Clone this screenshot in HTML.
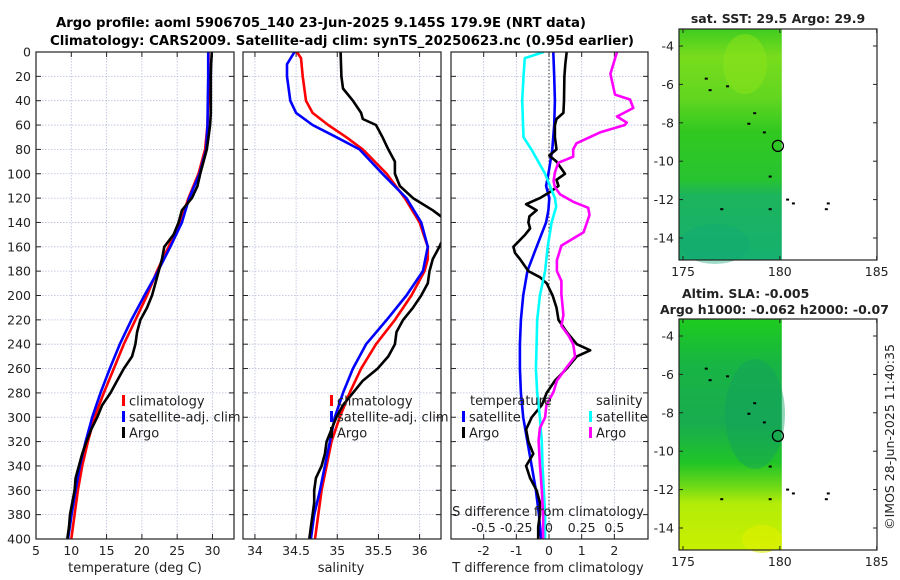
<!DOCTYPE html>
<html><head><meta charset="utf-8"><style>
html,body{margin:0;padding:0;background:#fff;}
svg{display:block;font-family:"DejaVu Sans","Liberation Sans",sans-serif;}
</style></head><body>
<svg id="fig" width="900" height="580" viewBox="0 0 900 580" xmlns="http://www.w3.org/2000/svg">
<defs>
<clipPath id="c1"><rect x="36" y="52" width="198" height="487"/></clipPath>
<clipPath id="c2"><rect x="243" y="52" width="198" height="487"/></clipPath>
<clipPath id="c3"><rect x="451" y="52" width="197" height="487"/></clipPath>
<linearGradient id="gsst" x1="0" y1="0" x2="0" y2="1">
<stop offset="0" stop-color="#40cc20"/><stop offset="0.12" stop-color="#78dc1c"/><stop offset="0.3" stop-color="#62d620"/>
<stop offset="0.45" stop-color="#30c820"/><stop offset="0.65" stop-color="#28c430"/><stop offset="0.72" stop-color="#1cb45c"/>
<stop offset="1" stop-color="#16b070"/></linearGradient>
<linearGradient id="gsla" x1="0" y1="0" x2="0" y2="1">
<stop offset="0" stop-color="#1ecc1e"/><stop offset="0.2" stop-color="#18b444"/><stop offset="0.45" stop-color="#18ac50"/>
<stop offset="0.62" stop-color="#20c428"/><stop offset="0.72" stop-color="#6ad818"/><stop offset="0.8" stop-color="#b4ec08"/>
<stop offset="1" stop-color="#c8f000"/></linearGradient>
</defs>
<text x="321" y="27" font-size="13" font-weight="bold" text-anchor="middle" textLength="530" lengthAdjust="spacingAndGlyphs">Argo profile: aoml 5906705_140 23-Jun-2025 9.145S 179.9E (NRT data)</text>
<text x="342" y="45" font-size="13" font-weight="bold" text-anchor="middle" textLength="584" lengthAdjust="spacingAndGlyphs">Climatology: CARS2009. Satellite-adj clim: synTS_20250623.nc (0.95d earlier)</text>
<g id="g1"></g>
<g id="g2"></g>
<g id="g3"></g>
<g id="g4"></g>
<g id="g5"></g>
<text transform="translate(894,437) rotate(-90)" font-size="12.5" text-anchor="middle" fill="#222">©IMOS 28-Jun-2025 11:40:35</text>
</svg>
<script>
// ---- data ----
const depthClim=[0,20,40,60,80,100,120,140,160,180,200,220,240,260,280,300,320,340,360,380,400];
const tempClim=[29.44,29.44,29.39,29.29,28.96,28.02,26.61,25.44,23.79,22.14,20.73,19.08,17.44,16.02,14.61,13.29,12.35,11.55,10.94,10.47,10.0];
const tempSat=[29.39,29.39,29.34,29.29,29.11,28.16,26.71,25.67,24.02,22.28,20.35,18.52,16.87,15.46,14.14,12.96,12.02,11.22,10.61,10.05,9.53];
const depthArgo=[0,10,20,30,40,50,60,70,80,90,100,110,120,130,140,150,160,170,180,190,200,210,220,230,240,250,260,270,280,290,300,310,320,330,340,350,360,370,380,390,400];
const tempArgo=[29.91,29.81,29.76,29.76,29.76,29.76,29.67,29.44,29.2,28.73,28.26,27.88,27.08,25.67,25.2,24.49,23.18,22.85,22.38,21.91,21.44,20.73,19.79,19.32,19.08,18.61,17.44,16.49,15.55,14.38,13.67,12.82,12.16,11.55,11.08,10.61,10.47,10.14,9.81,9.67,9.44];
const depthSalClim=[0,5,20,40,50,60,70,80,100,120,140,160,170,180,200,220,240,260,280,300,320,340,360,380,400];
const salClim=[34.51,34.56,34.58,34.62,34.70,34.89,35.11,35.31,35.60,35.82,36.00,36.10,36.10,36.06,35.90,35.70,35.47,35.29,35.15,35.03,34.93,34.87,34.81,34.77,34.73];
const depthSalSat=[0,10,20,40,50,60,70,80,100,120,140,160,180,200,220,240,260,280,300,320,340,360,380,400];
const salSat=[34.48,34.39,34.39,34.43,34.50,34.70,34.99,35.27,35.55,35.84,36.02,36.10,36.04,35.84,35.60,35.35,35.19,35.07,34.97,34.91,34.85,34.79,34.72,34.68];
const depthSalArgo=[0,20,30,40,50,55,60,70,80,90,100,110,120,130,135,145,157,160,170,180,190,200,210,220,230,240,250,260,270,280,290,300,310,320,330,340,350,360,370,380,390,400];
const salArgo=[35.04,35.05,35.07,35.19,35.29,35.31,35.47,35.55,35.62,35.70,35.70,35.76,35.92,36.16,36.26,36.40,36.26,36.24,36.16,36.12,36.10,36.02,35.92,35.80,35.72,35.70,35.62,35.49,35.31,35.19,35.07,34.99,34.93,34.87,34.85,34.81,34.74,34.72,34.72,34.70,34.68,34.66];
const depthTdSat=[0,20,40,60,80,100,110,120,130,140,160,180,200,220,240,260,280,300,320,340,360,380,400];
const tDiffSat=[0.13,0.16,0.18,0.16,0.10,-0.02,-0.09,0.01,-0.02,-0.09,-0.38,-0.66,-0.79,-0.86,-0.89,-0.89,-0.86,-0.79,-0.66,-0.53,-0.40,-0.31,-0.24];
const depthTdArgo=[0,10,20,40,50,55,60,70,80,85,90,100,105,110,115,120,125,130,135,140,145,150,160,165,170,180,185,190,200,210,220,230,240,245,250,260,270,280,290,300,310,320,330,340,350,360,370,380,390,400];
const tDiffArgo=[0.54,0.50,0.47,0.46,0.44,0.23,0.18,0.18,0.23,0.01,0.23,0.49,0.23,0.29,0.03,-0.28,-0.70,-0.38,-0.60,-0.63,-0.58,-0.73,-1.09,-1.04,-0.89,-0.63,-0.28,-0.07,0.11,0.23,0.29,0.54,0.85,1.26,0.85,0.54,0.18,-0.07,-0.22,-0.53,-0.70,-0.63,-0.48,-0.70,-0.58,-0.38,-0.28,-0.28,-0.33,-0.33];
const depthSdSat=[0,5,20,40,70,80,100,120,127,140,160,180,200,220,240,260,280,300,320,340,360,380,400];
const sDiffSat=[-0.04,-0.185,-0.195,-0.205,-0.195,-0.135,-0.03,0.045,0.055,0.02,-0.01,-0.03,-0.07,-0.09,-0.095,-0.10,-0.09,-0.07,-0.055,-0.05,-0.04,-0.03,-0.03];
const depthSdArgo=[0,18,35,39,46,53,58,60,66,75,80,86,91,99,106,111,117,123,128,134,148,159,171,180,188,199,216,225,233,240,250,259,270,279,290,300,309,319,339,360,380,400];
const sDiffArgo=[0.52,0.47,0.505,0.62,0.645,0.52,0.595,0.58,0.39,0.21,0.185,0.185,0.07,0.045,0.035,0.045,0.085,0.185,0.30,0.31,0.265,0.095,0.06,0.06,0.095,0.095,0.11,0.095,0.15,0.185,0.20,0.135,0.06,0.035,-0.02,-0.03,-0.07,-0.08,-0.07,-0.055,-0.045,-0.045];
const depthTicks=[0,20,40,60,80,100,120,140,160,180,200,220,240,260,280,300,320,340,360,380,400];
const tempTicks=[5,10,15,20,25,30];
const salTicks=[34,34.5,35,35.5,36];
const tdTicks=[-2,-1,0,1,2];
const sdTicks=[-0.5,-0.25,0,0.25,0.5];
const lonTicks=[175,180,185];
const latTicks=[-4,-6,-8,-10,-12,-14];

const NS="http://www.w3.org/2000/svg";
function mk(tag,parent,attrs){const e=document.createElementNS(NS,tag);for(const k in attrs)e.setAttribute(k,attrs[k]);parent.appendChild(e);return e;}
const Y0=52,Y1=539;
function yD(d){return Y0+d/400*(Y1-Y0);}
function lin(d0,d1,r0,r1){return v=>r0+(v-d0)/(d1-d0)*(r1-r0);}

function axes(g,x0,x1,xs,ticks,labels,showY){
  mk('rect',g,{x:x0,y:Y0,width:x1-x0,height:Y1-Y0,fill:'#fff'});
  depthTicks.forEach(d=>{const l=mk('line',g,{x1:x0,x2:x1,y1:yD(d),y2:yD(d),stroke:'#b8bedc','stroke-width':0.8,'stroke-dasharray':'1.5,1.5'});
    
    mk('line',g,{x1:x0,x2:x0+5,y1:yD(d),y2:yD(d),stroke:'#222'});mk('line',g,{x1:x1-5,x2:x1,y1:yD(d),y2:yD(d),stroke:'#222'});
    if(showY){const t=mk('text',g,{x:x0-5,y:yD(d)+4.5,'font-size':12.5,'text-anchor':'end',fill:'#222'});t.textContent=d;
      }});
  ticks.forEach((v,i)=>{const x=xs(v);
    const l=mk('line',g,{x1:x,x2:x,y1:Y0,y2:Y1,stroke:'#b8bedc','stroke-width':0.8,'stroke-dasharray':'1.5,1.5'});
    
    mk('line',g,{x1:x,x2:x,y1:Y1-5,y2:Y1,stroke:'#222'});mk('line',g,{x1:x,x2:x,y1:Y0,y2:Y0+5,stroke:'#222'});
    const t=mk('text',g,{x:x,y:555,'font-size':12.5,'text-anchor':'middle',fill:'#222'});t.textContent=labels[i];
    });
}
function frame(g,x0,x1){const r=mk('rect',g,{x:x0,y:Y0,width:x1-x0,height:Y1-Y0,fill:'none',stroke:'#222','stroke-width':1.2});
  }
function series(g,depths,vals,xs,color,clip,name){
  const pts=depths.map((d,i)=>xs(vals[i]).toFixed(1)+','+yD(d).toFixed(1)).join(' ');
  const p=mk('polyline',g,{points:pts,fill:'none',stroke:color,'stroke-width':2.6,'stroke-linejoin':'round','clip-path':'url(#'+clip+')'});
  }
function legendRow(g,x,y,color,label,name){
  mk('rect',g,{x:x,y:y-6,width:3,height:11,fill:color});
  const t=mk('text',g,{x:x+7,y:y+4.5,'font-size':13,fill:'#222'});t.textContent=label;
  }
function label(g,x,y,txt,name,extra){const t=mk('text',g,Object.assign({x:x,y:y,'font-size':13,'text-anchor':'middle',fill:'#222'},extra||{}));t.textContent=txt;
  return t;}

// Panel 1
const g1=document.getElementById('g1');
const xT=lin(5,33.05,36,234);
axes(g1,36,234,xT,tempTicks,tempTicks.map(String),true);
series(g1,depthClim,tempClim,xT,'#ff0000','c1','temp-climatology-line');
series(g1,depthClim,tempSat,xT,'#0000ff','c1','temp-satellite-line');
series(g1,depthArgo,tempArgo,xT,'#000','c1','temp-argo-line');
frame(g1,36,234);
legendRow(g1,122,401,'#ff0000','climatology','legend-climatology');
legendRow(g1,122,417,'#0000ff','satellite-adj. clim','legend-satellite');
legendRow(g1,122,433,'#000','Argo','legend-argo');
label(g1,135,572,'temperature (deg C)','x-axis-title-temperature');

// Panel 2
const g2=document.getElementById('g2');
const xS=lin(33.855,36.26,243,441);
axes(g2,243,441,xS,salTicks,['34','34.5','35','35.5','36']);
series(g2,depthSalClim,salClim,xS,'#ff0000','c2','sal-climatology-line');
series(g2,depthSalSat,salSat,xS,'#0000ff','c2','sal-satellite-line');
series(g2,depthSalArgo,salArgo,xS,'#000','c2','sal-argo-line');
frame(g2,243,441);
legendRow(g2,330,401,'#ff0000','climatology','legend-climatology');
legendRow(g2,330,417,'#0000ff','satellite-adj. clim','legend-satellite');
legendRow(g2,330,433,'#000','Argo','legend-argo');
label(g2,341,572,'salinity','x-axis-title-salinity');

// Panel 3
const g3=document.getElementById('g3');
const xTd=lin(-3,3.03,451,648);
const xSd=lin(-0.75,0.7575,451,648);
axes(g3,451,648,xTd,tdTicks,['-2','-1','0','1','2']);
const zl=mk('line',g3,{x1:xTd(0),x2:xTd(0),y1:Y0,y2:Y1,stroke:'#333','stroke-width':1,'stroke-dasharray':'1.5,2'});

series(g3,depthTdSat,tDiffSat,xTd,'#0000ff','c3','tdiff-satellite-line');
series(g3,depthTdArgo,tDiffArgo,xTd,'#000','c3','tdiff-argo-line');
series(g3,depthSdSat,sDiffSat,xSd,'#00ffff','c3','sdiff-satellite-line');
series(g3,depthSdArgo,sDiffArgo,xSd,'#ff00ff','c3','sdiff-argo-line');
frame(g3,451,648);
label(g3,470,405,'temperature','legend-temperature-heading',{'text-anchor':'start'});
legendRow(g3,462,417,'#0000ff','satellite','legend-t-satellite');
legendRow(g3,462,433,'#000','Argo','legend-t-argo');
label(g3,596,405,'salinity','legend-salinity-heading',{'text-anchor':'start'});
legendRow(g3,589,417,'#00ffff','satellite','legend-s-satellite');
legendRow(g3,589,433,'#ff00ff','Argo','legend-s-argo');
label(g3,548,516,'S difference from climatology','s-axis-title');
sdTicks.forEach(v=>{label(g3,xSd(v),532,String(v),'s-tick-label',{'font-size':12.5});});
label(g3,548,572,'T difference from climatology','x-axis-title-tdiff');

// Maps
const xLon=lin(175,185,683,876.7);
function map(g,top,grad,patch){
  const yLat=lin(-4,-14,top+17,top+209);
  const bot=top+231;
  mk('rect',g,{x:679,y:top,width:198,height:231,fill:'#fff'});
  const f=mk('rect',g,{x:679,y:top,width:xLon(180.1)-679,height:231,fill:'url(#'+grad+')'});
  
  patch(g,top);
  const isl=[[176.2,-5.7],[176.4,-6.3],[177.3,-6.1],[178.7,-7.5],[178.4,-8.05],[179.2,-8.5],[179.5,-10.8],[177.0,-12.5],[179.5,-12.5],[180.4,-12.0],[180.7,-12.2],[182.4,-12.5],[182.5,-12.2]];
  isl.forEach(p=>{const r=mk('rect',g,{x:xLon(p[0])-1.5,y:yLat(p[1])-1,width:3,height:2,fill:'#000'});});
  const c=mk('circle',g,{cx:xLon(179.9),cy:yLat(-9.2),r:5.5,fill:'none',stroke:'#000','stroke-width':1.3});
  
  const fr=mk('rect',g,{x:679,y:top,width:198,height:231,fill:'none',stroke:'#222','stroke-width':1.2});
  
  lonTicks.forEach(v=>{mk('line',g,{x1:xLon(v),x2:xLon(v),y1:bot,y2:bot-4,stroke:'#222'});mk('line',g,{x1:xLon(v),x2:xLon(v),y1:top,y2:top+4,stroke:'#222'});
    label(g,xLon(v),bot+16,String(v),'lon-tick-label',{'font-size':12.5});});
  latTicks.forEach(v=>{mk('line',g,{x1:679,x2:683,y1:yLat(v),y2:yLat(v),stroke:'#222'});mk('line',g,{x1:873,x2:877,y1:yLat(v),y2:yLat(v),stroke:'#222'});
    label(g,674,yLat(v)+4.5,String(v),'lat-tick-label',{'font-size':12.5,'text-anchor':'end'});});
  return yLat;
}
const g4=document.getElementById('g4');
map(g4,29,'gsst',function(g,top){
  mk('ellipse',g,{cx:745,cy:top+35,rx:22,ry:30,fill:'#8ee41a',opacity:0.5});
  mk('ellipse',g,{cx:715,cy:top+215,rx:35,ry:20,fill:'#12a874',opacity:0.4});
});
label(g4,778,23,'sat. SST: 29.5 Argo: 29.9','sst-map-title',{'font-weight':'bold','font-size':12.5});
const g5=document.getElementById('g5');
map(g5,319,'gsla',function(g,top){
  mk('ellipse',g,{cx:755,cy:top+95,rx:30,ry:55,fill:'#12a060',opacity:0.45});
  mk('ellipse',g,{cx:762,cy:top+220,rx:20,ry:14,fill:'#e0f000',opacity:0.6});
});
label(g5,682,298,'Altim. SLA: -0.005','sla-map-title',{'font-weight':'bold','font-size':12.5,'text-anchor':'start'});
label(g5,660,314,'Argo h1000: -0.062 h2000: -0.07','argo-height-title',{'font-weight':'bold','font-size':12.5,'text-anchor':'start'});
</script>
</body></html>
